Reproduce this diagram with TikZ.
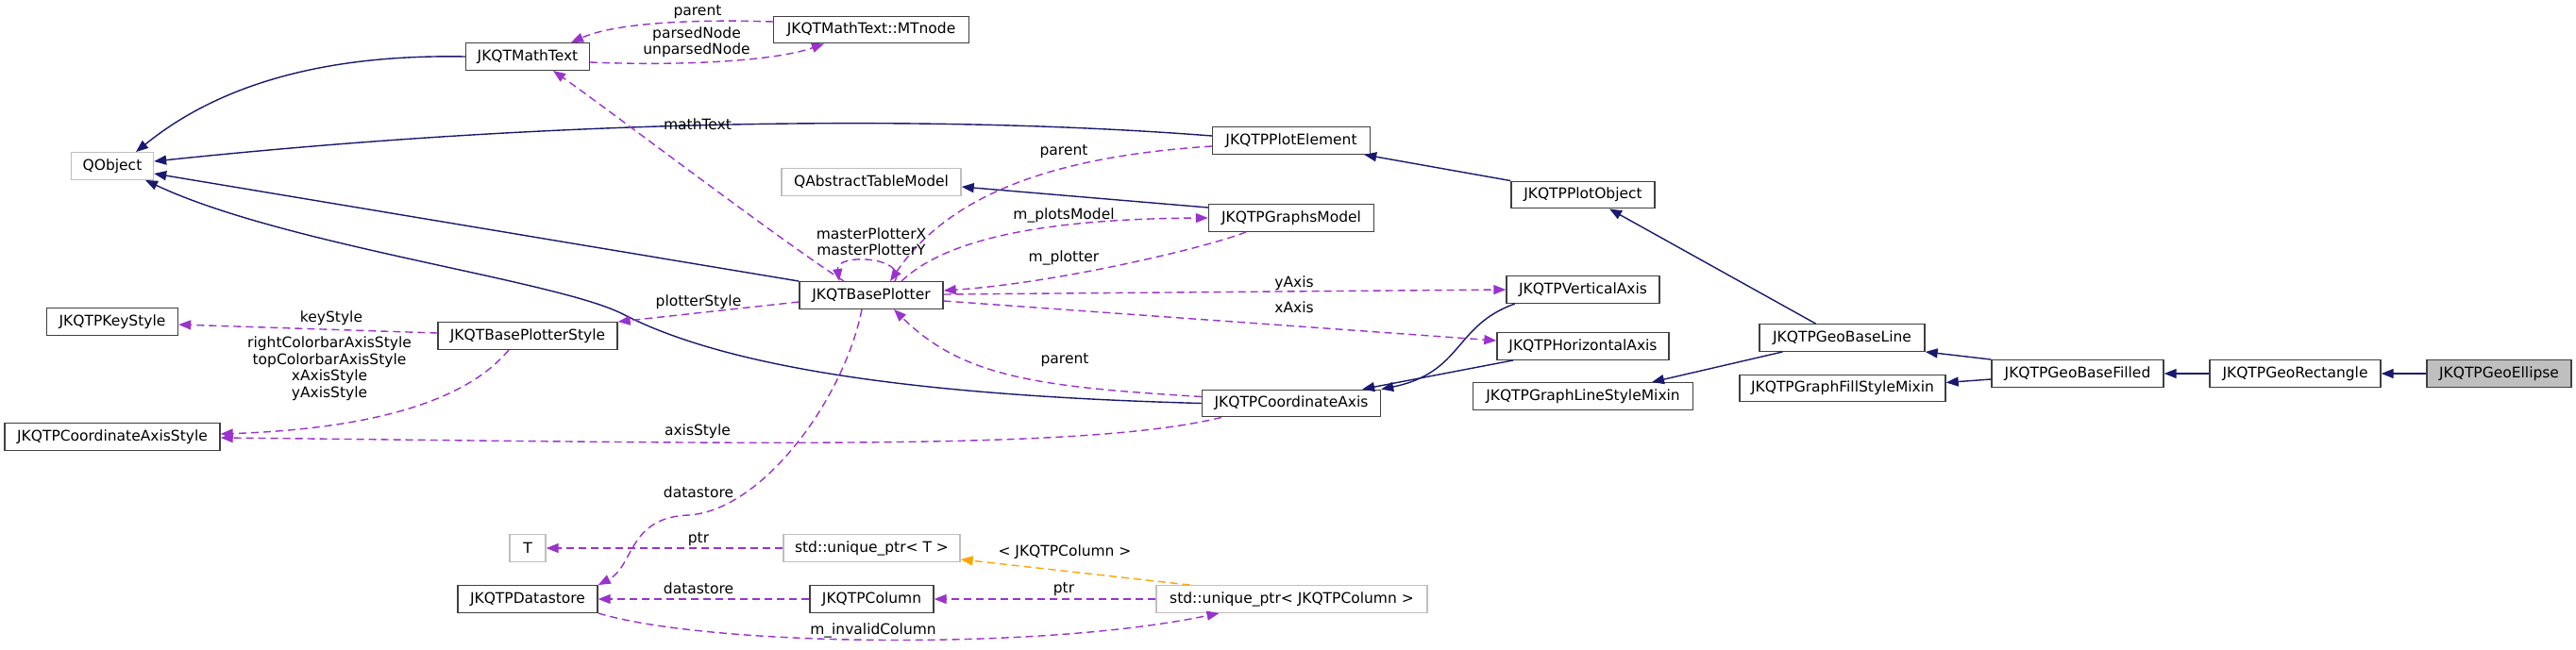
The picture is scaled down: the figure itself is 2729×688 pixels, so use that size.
\documentclass[tikz,border=0pt]{standalone}
\usepackage{fontspec}
\setmainfont{DejaVu Sans}
\usetikzlibrary{arrows.meta}
\definecolor{inhc}{HTML}{191970}
\definecolor{usec}{HTML}{9A32CD}
\definecolor{tmplc}{HTML}{FFA500}
\definecolor{nbord}{HTML}{404040}
\definecolor{gbord}{HTML}{BFBFBF}
\definecolor{selfill}{HTML}{BFBFBF}
\begin{document}
\begin{tikzpicture}[x=1pt,y=-1pt,
  font=\fontsize{15.5}{17.5}\selectfont,
  box/.style={draw=nbord, line width=1.4pt, fill=white, minimum height=28.5pt, inner sep=0pt},
  gbox/.style={box, draw=gbord},
  selbox/.style={box, fill=selfill},
  inh/.style={draw=inhc, line width=1.4pt, -{Triangle[length=13pt,width=10pt]}},
  use/.style={draw=usec, line width=1.4pt, dash pattern=on 8pt off 5pt, -{Triangle[length=13pt,width=10pt]}},
  tmpl/.style={draw=tmplc, line width=1.4pt, dash pattern=on 8pt off 5pt, -{Triangle[length=13pt,width=10pt]}},
  lbl/.style={inner sep=0pt, align=center}
]
\useasboundingbox (0,0) rectangle (2729,688);
\fill[white] (0,0) rectangle (2729,688);

% nodes
\node[box, minimum width=131pt] (mt) at (559,60) {JKQTMathText};
\node[box, minimum width=207pt] (mtn) at (923,31.5) {JKQTMathText::MTnode};
\node[gbox, minimum width=87pt] (qo) at (119,176) {QObject};
\node[gbox, minimum width=190pt] (qatm) at (923,193) {QAbstractTableModel};
\node[box, minimum width=152pt] (bp) at (923,313) {JKQTBasePlotter};
\node[box, minimum width=167pt] (pe) at (1368,149) {JKQTPPlotElement};
\node[box, minimum width=175pt] (gm) at (1368,231) {JKQTPGraphsModel};
\node[box, minimum width=152pt] (po) at (1677,206.5) {JKQTPPlotObject};
\node[box, minimum width=162pt] (va) at (1677,307) {JKQTPVerticalAxis};
\node[box, minimum width=182pt] (ha) at (1677,367) {JKQTPHorizontalAxis};
\node[box, minimum width=233pt] (glsm) at (1677,420) {JKQTPGraphLineStyleMixin};
\node[box, minimum width=189pt] (ca) at (1368,427.5) {JKQTPCoordinateAxis};
\node[box, minimum width=139pt] (ks) at (119,341) {JKQTPKeyStyle};
\node[box, minimum width=190pt] (bps) at (559,356) {JKQTBasePlotterStyle};
\node[box, minimum width=228pt] (cas) at (119,463) {JKQTPCoordinateAxisStyle};
\node[gbox, minimum width=38pt] (t) at (559,581) {T};
\node[gbox, minimum width=187pt] (upt) at (923.5,581) {std::unique\_ptr< T >};
\node[box, minimum width=148pt] (ds) at (559,635) {JKQTPDatastore};
\node[box, minimum width=131pt] (col) at (923.5,635) {JKQTPColumn};
\node[gbox, minimum width=287pt] (upc) at (1368.5,635) {std::unique\_ptr< JKQTPColumn >};
\node[box, minimum width=175pt] (gbl) at (1951.5,358) {JKQTPGeoBaseLine};
\node[box, minimum width=218pt] (gfsm) at (1952,411.5) {JKQTPGraphFillStyleMixin};
\node[box, minimum width=182pt] (gbf) at (2201,396) {JKQTPGeoBaseFilled};
\node[box, minimum width=181pt] (gr) at (2431.5,396) {JKQTPGeoRectangle};
\node[selbox, minimum width=153pt] (ge) at (2647.5,396) {JKQTPGeoEllipse};

% inheritance edges
\draw[inh] (mt.west) .. controls (380,58) and (250,75) .. ([xshift=25pt]qo.north);
\draw[inh] ([yshift=5pt]pe.west) .. controls (1000,122) and (600,125) .. ([yshift=5pt]qo.east);
\draw[inh] (bp.north west) -- ([yshift=-8pt]qo.east);
\draw[inh] (ca.west) .. controls (1000,420) and (780,395) .. (660,333) .. controls (590,297) and (300,260) .. ([xshift=35pt]qo.south);
\draw[inh] ([yshift=11pt]gm.west) -- ([yshift=-5pt]qatm.east);
\draw[inh] (po.north west) -- ([xshift=-7pt]pe.south east);
\draw[inh] ([xshift=-28pt]gbl.north) -- ([xshift=28pt]po.south);
\draw[inh] ([xshift=-72pt]va.south) .. controls (1540,345) and (1550,395) .. (ca.north east);
\draw[inh] ([xshift=-74pt]ha.south) -- ([xshift=-20pt]ca.north east);
\draw[inh] ([xshift=-63pt]gbl.south) -- ([xshift=73pt]glsm.north);
\draw[inh] (gbf.north west) -- (gbl.south east);
\draw[inh] ([yshift=-6pt]gbf.west) -- ([yshift=6pt]gfsm.east);
\draw[inh] (gr.west) -- (gbf.east);
\draw[inh] (ge.west) -- (gr.east);

% usage edges
\draw[use] ([yshift=8.5pt]mtn.west) .. controls (730,20) and (650,25) .. ([xshift=46pt]mt.north);
\draw[use] ([yshift=-6pt]mt.east) .. controls (720,70) and (820,65) .. ([xshift=-50pt]mtn.south);
\draw[use] ([xshift=-29pt]bp.north) .. controls (820,250) and (650,120) .. ([xshift=27pt]mt.south);
\draw[use] ([xshift=25pt]bp.north) .. controls (962,272) and (885,268) .. ([xshift=-34pt]bp.north);
\draw[use] ([yshift=-6pt]pe.west) .. controls (1130,165) and (1010,200) .. ([xshift=20pt]bp.north);
\draw[use] ([xshift=32pt]bp.north) .. controls (1000,255) and (1100,232) .. (gm.west);
\draw[use] ([xshift=-48pt]gm.south) .. controls (1280,262) and (1120,300) .. ([yshift=5pt]bp.east);
\draw[use] ([yshift=1pt]bp.east) -- (va.west);
\draw[use] ([yshift=-6pt]bp.east) -- ([yshift=6pt]ha.west);
\draw[use] ([yshift=7pt]ca.west) .. controls (1100,410) and (1020,400) .. ([xshift=24pt]bp.south);
\draw[use] ([yshift=-7pt]bp.west) -- (bps.north east);
\draw[use] ([yshift=3pt]bps.west) -- ([yshift=-3pt]ks.east);
\draw[use] ([xshift=-20pt]bps.south) .. controls (490,430) and (380,455) .. ([yshift=3pt]cas.east);
\draw[use] ([xshift=-74pt]ca.south) .. controls (1150,478) and (800,470) .. ([yshift=-1pt]cas.east);
\draw[use] ([xshift=-10pt]bp.south) .. controls (895,420) and (810,540) .. (730,546) .. controls (665,548) and (672,600) .. (ds.north east);
\draw[use] (upt.west) -- (t.east);
\draw[use] (col.west) -- (ds.east);
\draw[use] (upc.west) -- (col.east);
\draw[use] (ds.south east) .. controls (750,685) and (1100,690) .. ([xshift=-77pt]upc.south);
\draw[tmpl] ([xshift=-108pt]upc.north) -- ([yshift=3pt]upt.south east);

% labels
\node[lbl] (l1) at (739,13) {parent};
\node[lbl] (l2) at (738,44.5) {parsedNode\\unparsedNode};
\node[lbl] (l3) at (739,132) {mathText};
\node[lbl] (l4) at (1127,161) {parent};
\node[lbl] (l5) at (1127,228) {m\_plotsModel};
\node[lbl] (l6) at (923,256) {masterPlotterX\\masterPlotterY};
\node[lbl] (l7) at (1127,273) {m\_plotter};
\node[lbl] (l8) at (1371,300) {yAxis};
\node[lbl] (l9) at (1371,326) {xAxis};
\node[lbl] (l10) at (740,320) {plotterStyle};
\node[lbl] (l11) at (351,337) {keyStyle};
\node[lbl] (l12) at (349,390.5) {rightColorbarAxisStyle\\topColorbarAxisStyle\\xAxisStyle\\yAxisStyle};
\node[lbl] (l13) at (1128,382) {parent};
\node[lbl] (l14) at (739,457) {axisStyle};
\node[lbl] (l15) at (740,522) {datastore};
\node[lbl] (l16) at (740,572) {ptr};
\node[lbl] (l17) at (1128,585) {< JKQTPColumn >};
\node[lbl] (l18) at (740,624) {datastore};
\node[lbl] (l19) at (1127,625) {ptr};
\node[lbl] (l20) at (925,668) {m\_invalidColumn};
\end{tikzpicture}
\end{document}
